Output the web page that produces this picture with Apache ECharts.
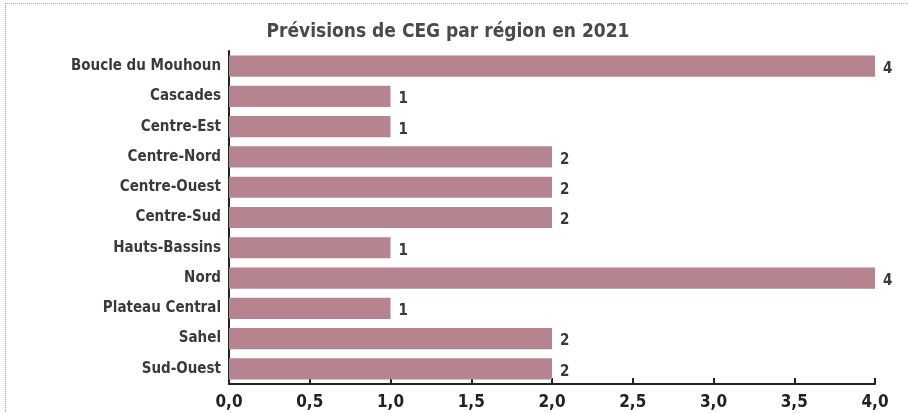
<!DOCTYPE html>
<html>
<head>
<meta charset="utf-8">
<script src="https://cdn.jsdelivr.net/npm/echarts@6/dist/echarts.min.js"></script>
<style>
    html, body { margin: 0; padding: 0; background: #fff; }
    #frame {
        position: absolute; left: 5px; top: 3px; width: 960px; height: 460px;
        border-left: 1px dotted #b7a0a6; border-top: 1px dotted #b7a0a6;
    }
    #chart { position: absolute; left: 0; top: 0; width: 909px; height: 413px; }
</style>
</head>
<body>
<div id="frame"></div>
<div id="chart"></div>
<script>
const regions = ['Boucle du Mouhoun', 'Cascades', 'Centre-Est', 'Centre-Nord', 'Centre-Ouest',
    'Centre-Sud', 'Hauts-Bassins', 'Nord', 'Plateau Central', 'Sahel', 'Sud-Ouest']
const ceg = [4, 1, 1, 2, 2, 2, 1, 4, 1, 2, 2]

const font = '"DejaVu Sans Condensed", "Liberation Sans Narrow", sans-serif'
const textColor = '#3a3a3a'

const chartInstance = echarts.init(document.getElementById('chart'))

chartInstance.setOption({
    animation: false,
    title: {
        text: 'Prévisions de CEG par région en 2021',
        left: 443,
        textAlign: 'center',
        top: 18,
        textStyle: { fontFamily: font, fontSize: 19, fontWeight: 'bold', color: '#4a4a4a' }
    },
    grid: { left: 229, right: 34, top: 51, bottom: 29, containLabel: false },
    xAxis: {
        type: 'value',
        min: 0,
        max: 4,
        interval: 0.5,
        axisLine: { show: true, lineStyle: { color: '#222', width: 2 } },
        axisTick: { show: true, inside: true, length: 6, lineStyle: { color: '#222', width: 2 } },
        splitLine: { show: false },
        axisLabel: {
            margin: 10,
            fontFamily: font, fontSize: 17, fontWeight: 'bold', color: '#222',
            formatter: (v) => v.toFixed(1).replace('.', ',')
        }
    },
    yAxis: {
        type: 'category',
        data: regions,
        inverse: true,
        axisLine: { show: true, lineStyle: { color: '#222', width: 2 } },
        axisTick: { show: true, inside: true, length: 3, alignWithLabel: true, lineStyle: { color: '#222', width: 2 } },
        axisLabel: {
            margin: 8,
            fontFamily: font, fontSize: 15, fontWeight: 'bold', color: textColor
        }
    },
    series: [{
        type: 'bar',
        data: ceg,
        barCategoryGap: '30%',
        itemStyle: { color: '#b5848f' },
        label: {
            show: true,
            position: 'right',
            distance: 8,
            offset: [0, 3],
            fontFamily: font, fontSize: 15, fontWeight: 'bold', color: textColor
        }
    }]
})
</script>
</body>
</html>
